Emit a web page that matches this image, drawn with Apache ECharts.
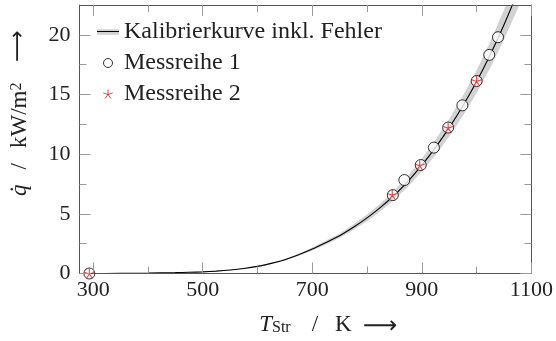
<!DOCTYPE html>
<html>
<head>
<meta charset="utf-8">
<script src="https://cdn.jsdelivr.net/npm/echarts@6/dist/echarts.min.js"></script>
<style>
  html, body { margin: 0; padding: 0; background: #fff; }
  #chart { width: 556px; height: 341px; }
</style>
</head>
<body>
<div id="chart"></div>
<script>
// Calibration curve q(T) with its error band
const curveT   = [293, 350, 400, 450, 475, 500, 525, 550, 575, 600, 625, 650, 675, 700, 725, 750, 775, 800, 825, 850, 875, 900, 925, 950, 975, 1000, 1025, 1050, 1075, 1090];
const curveQ   = [0, 0.01, 0.03, 0.07, 0.1, 0.14, 0.2, 0.29, 0.42, 0.6, 0.85, 1.16, 1.57, 2.05, 2.6, 3.17, 3.87, 4.66, 5.56, 6.58, 7.75, 9.08, 10.57, 12.22, 14.05, 16.08, 18.35, 20.85, 23.6, 25.4];
const bandLow  = [0, 0.01, 0.03, 0.065, 0.095, 0.13, 0.19, 0.27, 0.39, 0.56, 0.8, 1.09, 1.48, 1.93, 2.44, 2.98, 3.64, 4.38, 5.23, 6.19, 7.29, 8.54, 9.94, 11.49, 13.21, 15.12, 17.25, 19.6, 22.18, 23.88];
const bandHigh = [0, 0.01, 0.03, 0.075, 0.105, 0.15, 0.21, 0.31, 0.45, 0.64, 0.9, 1.23, 1.66, 2.17, 2.76, 3.36, 4.1, 4.94, 5.89, 6.97, 8.22, 9.62, 11.2, 12.95, 14.89, 17.04, 19.45, 22.1, 25.02, 26.92];

// Measurement series 1 (circles)
const mess1T = [293, 847, 868, 898, 922, 948, 974, 1000, 1023, 1039];
const mess1Q = [0, 6.57, 7.83, 9.09, 10.55, 12.23, 14.09, 16.13, 18.32, 19.8];

// Measurement series 2 (stars)
const mess2T = [293, 846, 896, 948, 1000];
const mess2Q = [0, 6.6, 9.07, 12.22, 16.13];

// Axis ticks
const xMajor = [300, 500, 700, 900, 1100];
const xMinor = [400, 600, 800, 1000];
const yMajor = [0, 5, 10, 15, 20];
const yMinor = [2.5, 7.5, 12.5, 17.5];

const X_MIN = 275, X_MAX = 1100, Y_MIN = 0, Y_MAX = 22.5;
const FONT = 'Liberation Serif';
const TXT = '#222';
const AXIS = '#555';
const TICK = '#9a9a9a';
const BAND = '#d2d2d2';
const RED = '#d7191c';

const zip = (a, b) => a.map((v, i) => [v, b[i]]);
const starPath = 'path://M0,-10L0,0M9.51,-3.09L0,0M5.88,8.09L0,0M-5.88,8.09L0,0M-9.51,-3.09L0,0';
const plain = v => String(v);

function xAxisDef(pos, ticks, len, withLine, withLabel, extra) {
  return Object.assign({
    type: 'value', min: X_MIN, max: X_MAX, position: pos, z: 5,
    axisLine: { show: withLine, onZero: false, lineStyle: { color: AXIS, width: 1 } },
    axisTick: { show: true, inside: true, length: len, customValues: ticks, lineStyle: { color: TICK, width: 1 } },
    axisLabel: withLabel
      ? { show: true, customValues: ticks, formatter: plain, margin: 6, fontFamily: FONT, fontSize: 22, color: TXT }
      : { show: false },
    splitLine: { show: false }
  }, extra || {});
}
function yAxisDef(pos, ticks, len, withLine, withLabel, extra) {
  return Object.assign({
    type: 'value', min: Y_MIN, max: Y_MAX, position: pos, z: 5,
    axisLine: { show: withLine, onZero: false, lineStyle: { color: AXIS, width: 1 } },
    axisTick: { show: true, inside: true, length: len, customValues: ticks, lineStyle: { color: TICK, width: 1 } },
    axisLabel: withLabel
      ? { show: true, customValues: ticks, formatter: plain, margin: 9, fontFamily: FONT, fontSize: 22, color: TXT }
      : { show: false },
    splitLine: { show: false }
  }, extra || {});
}

const chart = echarts.init(document.getElementById('chart'), null, { renderer: 'canvas' });

chart.setOption({
  animation: false,
  backgroundColor: '#fff',
  grid: { left: 79, right: 24, top: 5, bottom: 63, containLabel: false },
  xAxis: [
    xAxisDef('bottom', xMajor, 11, true, true, {
      name: '{i|T}{sub|Str}{sl|/}{n|K}',
      nameLocation: 'middle',
      nameGap: 40,
      nameTextStyle: {
        fontFamily: FONT, fontSize: 22, color: TXT,
        rich: {
          i: { fontFamily: FONT, fontStyle: 'italic', fontSize: 23, lineHeight: 22, color: TXT },
          sub: { fontFamily: FONT, fontSize: 16, lineHeight: 10, verticalAlign: 'bottom', color: TXT },
          sl: { fontFamily: FONT, fontSize: 23, lineHeight: 22, color: TXT, padding: [0, 17, 0, 21] },
          n: { fontFamily: FONT, fontSize: 23, lineHeight: 22, color: TXT }
        }
      }
    }),
    xAxisDef('bottom', xMinor, 7, false, false),
    xAxisDef('top', xMajor, 11, true, false),
    xAxisDef('top', xMinor, 7, false, false)
  ],
  yAxis: [
    yAxisDef('left', yMajor, 11, true, true, {
      name: '{i|q\u0307}{sl|/}{n|kW/m}{sup|2}',
      nameLocation: 'middle',
      nameRotate: 90,
      nameGap: 49,
      nameTextStyle: {
        fontFamily: FONT, fontSize: 22, color: TXT,
        rich: {
          i: { fontFamily: FONT, fontStyle: 'italic', fontSize: 23, lineHeight: 22, color: TXT },
          sl: { fontFamily: FONT, fontSize: 23, lineHeight: 22, color: TXT, padding: [0, 15, 0, 15] },
          sup: { fontFamily: FONT, fontSize: 16, lineHeight: 10, verticalAlign: 'top', color: TXT },
          n: { fontFamily: FONT, fontSize: 23, lineHeight: 22, color: TXT }
        }
      }
    }),
    yAxisDef('left', yMinor, 7, false, false),
    yAxisDef('right', yMajor, 11, true, false),
    yAxisDef('right', yMinor, 7, false, false)
  ],
  legend: {
    orient: 'vertical',
    left: 97, top: 20,
    padding: 0,
    itemWidth: 22, itemHeight: 9, itemGap: 7,
    selectedMode: false,
    textStyle: { fontFamily: FONT, fontSize: 24, lineHeight: 22, color: TXT },
    data: [
      { name: 'Kalibrierkurve inkl. Fehler', icon: 'path://M0,0h22v5.5h-22z', itemStyle: { color: BAND, borderWidth: 0 } },
      { name: 'Messreihe 1', icon: 'circle', itemStyle: { color: '#fff', borderColor: '#000', borderWidth: 1 } },
      { name: 'Messreihe 2', icon: starPath, itemStyle: { color: RED, borderColor: RED, borderWidth: 1 } }
    ]
  },
  graphic: [
    // black centre line of the calibration legend icon
    { type: 'line', z: 100, shape: { x1: 97, y1: 31.5, x2: 119, y2: 31.5 }, style: { stroke: '#000', lineWidth: 1 } },
    // axis direction arrows
    { type: 'text', z: 100, x: 363, y: 327,
      style: { text: '\u27F6', fontFamily: 'DejaVu Sans', fontSize: 24, fill: TXT, align: 'left', verticalAlign: 'middle' } },
    { type: 'text', z: 100, x: 18, y: 46, rotation: Math.PI / 2,
      style: { text: '\u27F6', fontFamily: 'DejaVu Sans', fontSize: 22, fill: TXT, align: 'center', verticalAlign: 'middle' } }
  ],
  series: [
    {
      name: 'Kalibrierkurve inkl. Fehler',
      type: 'custom',
      coordinateSystem: 'cartesian2d',
      clip: true,
      silent: true,
      z: 1,
      data: [[curveT[0], 0]],
      renderItem: function (params, api) {
        const pts = [];
        for (let i = 0; i < curveT.length; i++) pts.push(api.coord([curveT[i], bandHigh[i]]));
        for (let i = curveT.length - 1; i >= 0; i--) pts.push(api.coord([curveT[i], bandLow[i]]));
        return { type: 'polygon', shape: { points: pts }, style: { fill: BAND, stroke: null } };
      }
    },
    {
      name: 'Kalibrierkurve',
      type: 'line',
      data: zip(curveT, curveQ),
      showSymbol: false,
      smooth: 0.2,
      clip: true,
      silent: true,
      z: 2,
      lineStyle: { color: '#000', width: 1.1 }
    },
    {
      name: 'Messreihe 1',
      type: 'scatter',
      data: zip(mess1T, mess1Q),
      symbol: 'circle',
      symbolSize: 11,
      silent: true,
      z: 3,
      itemStyle: { color: '#fff', borderColor: '#000', borderWidth: 1 }
    },
    {
      name: 'Messreihe 2',
      type: 'scatter',
      data: zip(mess2T, mess2Q),
      symbol: starPath,
      symbolSize: 10,
      silent: true,
      z: 4,
      itemStyle: { color: RED, borderColor: RED, borderWidth: 1.1 }
    }
  ]
});
</script>
</body>
</html>
